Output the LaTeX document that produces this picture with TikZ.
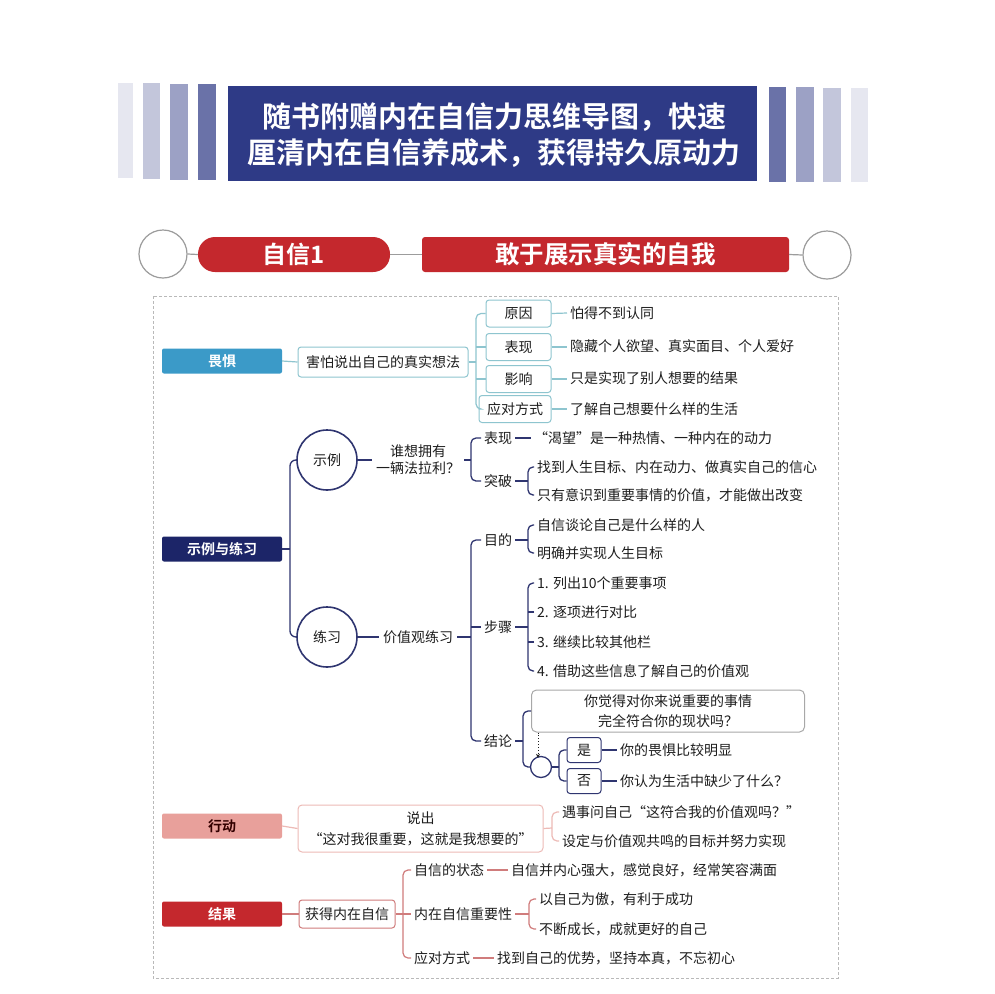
\documentclass[tikz,border=0pt]{standalone}
\usepackage{fontspec}
\setmainfont{Noto Sans CJK SC}[BoldFont=Noto Sans CJK SC Bold]
\usetikzlibrary{calc,arrows.meta}
\definecolor{hdrnavy}{HTML}{2E3A86}
\definecolor{stA}{HTML}{E6E7F0}
\definecolor{stB}{HTML}{C3C6DB}
\definecolor{stC}{HTML}{9CA1C5}
\definecolor{stD}{HTML}{6A72A8}
\definecolor{redA}{HTML}{C4282D}
\definecolor{greyc}{HTML}{9C9C9C}
\definecolor{blueA}{HTML}{3B9AC8}
\definecolor{tealc}{HTML}{8EC5CF}
\definecolor{navyA}{HTML}{1C2568}
\definecolor{navyc}{HTML}{2F3570}
\definecolor{pinkA}{HTML}{E8A09B}
\definecolor{pinkc}{HTML}{EDBAB6}
\definecolor{redc}{HTML}{D07C7C}
\definecolor{txtc}{HTML}{1E1E1E}
\definecolor{boxgrey}{HTML}{A8A8A8}
\begin{document}
\begin{tikzpicture}[x=1pt,y=-1pt,
  body/.style={font=\fontsize{14}{17}\selectfont, text=txtc},
  txt/.style={body, inner xsep=3pt, inner ysep=1pt, anchor=west},
  cat/.style={minimum width=120pt, minimum height=25pt, rounded corners=2pt, inner sep=0pt,
     font=\fontsize{14}{17}\selectfont\bfseries, text=white},
  box1/.style={body, draw=tealc, line width=1pt, rounded corners=3pt, minimum height=27pt, inner xsep=4pt, fill=white},
  circ/.style={circle, draw=navyc, line width=1.6pt, fill=white, minimum size=60pt, inner sep=0pt, body},
  cA/.style={draw=tealc, line width=1.2pt},
  cB/.style={draw=navyc, line width=1.3pt},
  cC/.style={draw=pinkc, line width=1.2pt},
  cD/.style={draw=redc, line width=1.2pt},
  rc/.style={rounded corners=5pt},
  gline/.style={draw=greyc, line width=1.2pt}
]
\useasboundingbox (0,0) rectangle (994,994);
\fill[white] (0,0) rectangle (994,994);

% ---------- header ----------
\fill[stA] (118,83) rectangle (133,178);
\fill[stB] (143,83) rectangle (160,179);
\fill[stC] (170,84) rectangle (188,180);
\fill[stD] (198,84) rectangle (216,180);
\fill[stD] (769,87) rectangle (786,182);
\fill[stC] (796,87) rectangle (814,182);
\fill[stB] (823,88) rectangle (841,182);
\fill[stA] (851,88) rectangle (868,182);
\node[fill=hdrnavy, minimum width=529pt, minimum height=95pt, inner sep=0pt] (hdr) at (492.5,133.5) {};
\node[font=\fontsize{29}{31}\selectfont\bfseries, text=white] (h1) at (494,117) {随书附赠内在自信力思维导图，快速};
\node[font=\fontsize{29}{31}\selectfont\bfseries, text=white] (h2) at (494,153) {厘清内在自信养成术，获得持久原动力};

% ---------- title row ----------
\node[circle, draw=greyc, line width=1.2pt, minimum size=48pt, inner sep=0pt] (lc) at (163,254) {};
\node[fill=redA, minimum width=192pt, minimum height=35pt, rounded corners=17pt, inner sep=0pt,
      font=\fontsize{24}{26}\selectfont\bfseries, text=white] (pill) at (294,254.5) {自信1};
\node[fill=redA, minimum width=367pt, minimum height=35pt, rounded corners=3pt, inner sep=0pt,
      font=\fontsize{24.5}{26}\selectfont\bfseries, text=white] (ttl) at (605.5,254.5) {敢于展示真实的自我};
\node[circle, draw=greyc, line width=1.2pt, minimum size=48pt, inner sep=0pt] (rcirc) at (827,255) {};
\draw[gline] (lc.east) -- (pill.west);
\draw[gline] (pill.east) -- (ttl.west);
\draw[gline] (ttl.east) -- (rcirc.west);

% ---------- frame ----------
\draw[draw=boxgrey!80, line width=0.8pt, dash pattern=on 3pt off 2pt] (153,296) rectangle (838,978);

% ---------- section 1 ----------
\node[cat, fill=blueA] (fear) at (222,361) {畏惧};
\node[box1, minimum width=170pt, minimum height=30pt] (fearq) at (383,362) {害怕说出自己的真实想法};
\node[box1, minimum width=65pt] (y1) at (518.5,313.5) {原因};
\node[box1, minimum width=65pt] (y2) at (518.5,347) {表现};
\node[box1, minimum width=65pt] (y3) at (518.5,379) {影响};
\node[box1, minimum width=72pt] (y4) at (515,409) {应对方式};
\coordinate (s1) at (476,362);
\draw[cA] (fear.east) -- (fearq.west);
\draw[cA,rc] (y1.west) -| (s1) |- (y4.west);
\draw[cA] (y2.west) -- (y2.west -| s1);
\draw[cA] (y3.west) -- (y3.west -| s1);
\draw[cA] (fearq.east) -- (s1);
\node[txt] (r1) at (567,313) {怕得不到认同};
\node[txt] (r2) at (567,346) {隐藏个人欲望、真实面目、个人爱好};
\node[txt] (r3) at (567,378) {只是实现了别人想要的结果};
\node[txt] (r4) at (567,409) {了解自己想要什么样的生活};
\draw[cA] (y1.east) -- (r1.west);
\draw[cA] (y2.east) -- (y2.east -| r2.west);
\draw[cA] (y3.east) -- (y3.east -| r3.west);
\draw[cA] (y4.east) -- (r4.west);

% ---------- section 2 ----------
\node[cat, fill=navyA] (ex) at (222,549) {示例与练习};
\node[circ] (sl) at (327,460) {示例};
\node[circ] (lx) at (327,637) {练习};
\coordinate (s2) at (290,549);
\draw[cB,rounded corners=6pt] (sl.west) -| (s2) |- (lx.west);
\draw[cB] (ex.east) -- (s2);

\node[body, align=center, inner xsep=4pt] (q1) at (418,460) {谁想拥有\\一辆法拉利？};
\draw[cB] (sl.east) -- (q1.west);
\node[txt] (bx2) at (481,438) {表现};
\node[txt] (tp) at (481,481) {突破};
\coordinate (s3) at (471,460);
\draw[cB,rc] (bx2.west) -| (s3) |- (tp.west);
\draw[cB] (q1.east) -- (s3);
\node[txt] (kw) at (531,438) {“渴望”是一种热情、一种内在的动力};
\draw[cB] (bx2.east) -- (kw.west);
\node[txt] (tb1) at (534,467) {找到人生目标、内在动力、做真实自己的信心};
\node[txt] (tb2) at (534,495) {只有意识到重要事情的价值，才能做出改变};
\coordinate (s4) at (528,481);
\draw[cB,rc] (tb1.west) -| (s4) |- (tb2.west);
\draw[cB] (tp.east) -- (s4);

\node[body, inner xsep=4pt] (jz) at (418,637) {价值观练习};
\draw[cB] (lx.east) -- (jz.west);
\node[txt] (md) at (481,540) {目的};
\node[txt] (bz) at (481,627) {步骤};
\node[txt] (jl) at (481,741) {结论};
\coordinate (s5) at (471,637);
\draw[cB,rc] (md.west) -| (s5) |- (jl.west);
\draw[cB] (bz.west) -- (bz.west -| s5);
\draw[cB] (jz.east) -- (s5);

\node[txt] (m1) at (534,525) {自信谈论自己是什么样的人};
\node[txt] (m2) at (534,553) {明确并实现人生目标};
\coordinate (s6) at (528,540);
\draw[cB,rc] (m1.west) -| (s6) |- (m2.west);
\draw[cB] (md.east) -- (s6);

\node[txt] (b1) at (534,583) {1. 列出10个重要事项};
\node[txt] (b2) at (534,612) {2. 逐项进行对比};
\node[txt] (b3) at (534,642) {3. 继续比较其他栏};
\node[txt] (b4) at (534,671) {4. 借助这些信息了解自己的价值观};
\coordinate (s7) at (528,627);
\draw[cB,rc] (b1.west) -| (s7) |- (b4.west);
\draw[cB] (b2.west) -- (b2.west -| s7);
\draw[cB] (b3.west) -- (b3.west -| s7);
\draw[cB] (bz.east) -- (s7);

\node[body, align=center, draw=boxgrey, line width=1pt, rounded corners=5pt,
      minimum width=273pt, minimum height=42pt, font=\fontsize{14}{20}\selectfont] (qb) at (668,711) {你觉得对你来说重要的事情\\完全符合你的现状吗？};
\node[circle, draw=navyc, line width=1.3pt, minimum size=21pt, inner sep=0pt] (sc) at (541,767) {};
\coordinate (s8) at (523,741);
\draw[cB,rc] (qb.west) -| (s8) |- (sc.west);
\draw[cB] (jl.east) -- (s8);
\draw[draw=txtc, line width=0.9pt, dotted, -{Stealth[length=4pt,width=4pt]}] ([xshift=-3pt]qb.south -| sc) -- ([xshift=-3pt,yshift=-2pt]sc.north);

\node[body, draw=navyc, line width=1pt, rounded corners=3pt, minimum width=34pt, minimum height=25pt, inner sep=0pt] (yes) at (584,750) {是};
\node[body, draw=navyc, line width=1pt, rounded corners=3pt, minimum width=34pt, minimum height=25pt, inner sep=0pt] (no) at (584,781) {否};
\coordinate (s9) at (559,767);
\draw[cB,rc] (yes.west) -| (s9) |- (no.west);
\draw[cB] (sc.east) -- (s9);
\node[txt] (yt) at (617,750) {你的畏惧比较明显};
\node[txt] (nt) at (617,781) {你认为生活中缺少了什么？};
\draw[cB] (yes.east) -- (yt.west);
\draw[cB] (no.east) -- (nt.west);

% ---------- section 3 ----------
\node[cat, fill=pinkA, text=black!80!red] (act) at (222,826) {行动};
\node[body, align=center, draw=pinkc, line width=1pt, rounded corners=4pt,
      minimum width=245pt, minimum height=47pt, font=\fontsize{14}{21}\selectfont] (sx) at (420.5,828.5) {说出\\“这对我很重要，这就是我想要的”};
\draw[cC] (act.east) -- (sx.west);
\node[txt] (a1) at (559,812) {遇事问自己“这符合我的价值观吗？”};
\node[txt] (a2) at (559,841) {设定与价值观共鸣的目标并努力实现};
\coordinate (s10) at (552,828);
\draw[cC,rc] (a1.west) -| (s10) |- (a2.west);
\draw[cC] (sx.east) -- (s10);

% ---------- section 4 ----------
\node[cat, fill=redA] (res) at (222,914) {结果};
\node[body, draw=redc, line width=1pt, rounded corners=3pt, minimum width=96pt, minimum height=28pt] (gd) at (347,914) {获得内在自信};
\draw[cD] (res.east) -- (gd.west);
\node[txt] (e1) at (411,870) {自信的状态};
\node[txt] (e2) at (411,914) {内在自信重要性};
\node[txt] (e3) at (411,958) {应对方式};
\coordinate (s11) at (403,914);
\draw[cD,rc] (e1.west) -| (s11) |- (e3.west);
\draw[cD] (gd.east) -- (e2.west);
\node[txt] (f1) at (508,870) {自信并内心强大，感觉良好，经常笑容满面};
\draw[cD] (e1.east) -- (f1.west);
\node[txt] (g1) at (536,899) {以自己为傲，有利于成功};
\node[txt] (g2) at (536,929) {不断成长，成就更好的自己};
\coordinate (s12) at (529,914);
\draw[cD,rc] (g1.west) -| (s12) |- (g2.west);
\draw[cD] (e2.east) -- (s12);
\node[txt] (f3) at (494,958) {找到自己的优势，坚持本真，不忘初心};
\draw[cD] (e3.east) -- (f3.west);
\end{tikzpicture}
\end{document}
